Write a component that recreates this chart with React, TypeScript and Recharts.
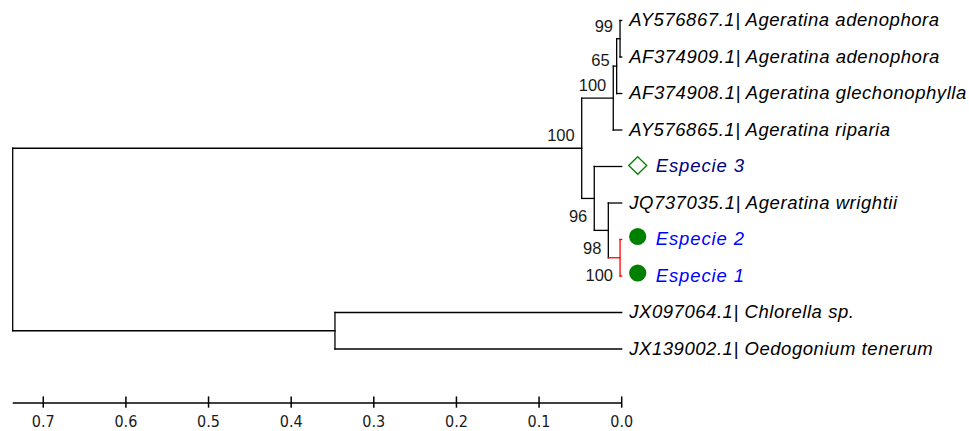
import React from 'react';
import { ComposedChart, Line, Scatter, XAxis, YAxis } from 'recharts';

// ---- data ----
const leafNames = [
  'AY576867.1| Ageratina adenophora',
  'AF374909.1| Ageratina adenophora',
  'AF374908.1| Ageratina glechonophylla',
  'AY576865.1| Ageratina riparia',
  'Especie 3',
  'JQ737035.1| Ageratina wrightii',
  'Especie 2',
  'Especie 1',
  'JX097064.1| Chlorella sp.',
  'JX139002.1| Oedogonium tenerum',
];
const leafHeights = [0, 0, 0, 0, 0, 0, 0, 0, 0, 0];

const nodeIds = ['n99', 'n65', 'n100a', 'n100r', 'n98', 'n96', 'n100b', 'nOut', 'root'];
const nodeHeights = [0.002, 0.0061, 0.0102, 0.002, 0.0162, 0.0332, 0.0484, 0.347, 0.737];
const nodeChildren = [
  ['L0', 'L1'],
  ['n99', 'L2'],
  ['n65', 'L3'],
  ['L6', 'L7'],
  ['L5', 'n100r'],
  ['L4', 'n98'],
  ['n100a', 'n96'],
  ['L8', 'L9'],
  ['n100b', 'nOut'],
];
const nodeSupport = ['99', '65', '100', '100', '98', '96', '100', '', ''];

const axisTicks = [0.7, 0.6, 0.5, 0.4, 0.3, 0.2, 0.1, 0.0];

// ---- styles (not data) ----
const redClade = ['n100r'];
const leafStyle: Record<string, { marker?: 'circle' | 'diamond'; color: string }> = {
  'Especie 3': { marker: 'diamond', color: '#000080' },
  'Especie 2': { marker: 'circle', color: '#0000FF' },
  'Especie 1': { marker: 'circle', color: '#0000FF' },
};
const supportDy: Record<string, number> = {
  n99: -6.6,
  n65: 0,
  n100a: -7,
  n100r: 23.5,
  n98: 23.5,
  n96: 23.5,
  n100b: -7.7,
};

// ---- build tree geometry in data units ----
type P = { v: number; y: number };
const posCache: Record<string, P> = {};
function pos(id: string): P {
  if (posCache[id]) return posCache[id];
  let p: P;
  if (id.startsWith('L')) {
    const i = parseInt(id.slice(1), 10);
    p = { v: leafHeights[i], y: i };
  } else {
    const k = nodeIds.indexOf(id);
    const ys = nodeChildren[k].map((c) => pos(c).y);
    p = { v: nodeHeights[k], y: ys.reduce((a, b) => a + b, 0) / ys.length };
  }
  posCache[id] = p;
  return p;
}

type Seg = { x1: number; y1: number; x2: number; y2: number; color: string };
const segments: Seg[] = [];
nodeIds.forEach((id, k) => {
  const np = pos(id);
  const kids = nodeChildren[k];
  const ys = kids.map((c) => pos(c).y);
  const red = redClade.includes(id);
  segments.push({ x1: np.v, y1: Math.min(...ys), x2: np.v, y2: Math.max(...ys), color: red ? '#FF0000' : '#000' });
  kids.forEach((c) => {
    const cp = pos(c);
    const cRed = red || redClade.includes(c);
    segments.push({ x1: np.v, y1: cp.y, x2: cp.v, y2: cp.y, color: cRed ? '#FF0000' : '#000' });
  });
});

const tipData = leafNames.map((name, i) => ({ x: leafHeights[i], y: i, name }));
const supportData = nodeIds
  .map((id, k) => ({ x: pos(id).v, y: pos(id).y, id, label: nodeSupport[k] }))
  .filter((d) => d.label !== '');

const FONT = '"Liberation Sans", Arial, sans-serif';

const TipShape = (props: any) => {
  const { cx, cy, payload } = props;
  const st = leafStyle[payload.name];
  const marker = st?.marker;
  const tx = cx + (marker ? 34 : 7.5);
  const mx = cx + 16;
  return (
    <g>
      {marker === 'circle' && <circle cx={mx} cy={cy - 3} r={8.6} fill="#008000" />}
      {marker === 'diamond' && (
        <polygon
          points={`${mx},${cy - 9.8} ${mx + 9},${cy - 1} ${mx},${cy + 7.8} ${mx - 9},${cy - 1}`}
          fill="none"
          stroke="#008000"
          strokeWidth={1.3}
        />
      )}
      <text
        x={tx}
        y={cy + 5.5}
        fontFamily={FONT}
        fontStyle="italic"
        fontSize={18.5}
        letterSpacing={marker ? 0.9 : 0.55}
        fill={st?.color ?? '#000'}
      >
        {payload.name}
      </text>
    </g>
  );
};

const SupportShape = (props: any) => {
  const { cx, cy, payload } = props;
  return (
    <text
      x={cx - 7}
      y={cy + (supportDy[payload.id] ?? -7)}
      textAnchor="end"
      fontFamily={FONT}
      fontSize={16.5}
      fill="#1a1a1a"
    >
      {payload.label}
    </text>
  );
};

const AxisTick = (props: any) => {
  const { x, y, payload } = props;
  return (
    <g>
      <line x1={x} x2={x} y1={y - 6.6} y2={y + 4.7} stroke="#000" strokeWidth={1.5} />
      <text
        x={x}
        y={y + 24}
        textAnchor="middle"
        fontFamily='"Liberation Sans Narrow", "Arial Narrow", "DejaVu Sans Condensed", Arial, sans-serif'
        fontSize={16}
        fill="#1a1a1a"
      >
        {Number(payload.value).toFixed(1)}
      </text>
    </g>
  );
};

export default function App() {
  return (
    <div style={{ position: 'absolute', left: 0, top: 0, background: '#fff' }}>
      <ComposedChart
        width={969}
        height={431}
        margin={{ top: 20.5, right: 347.3, bottom: 0, left: 12.7 }}
      >
        <XAxis
          type="number"
          dataKey="x"
          domain={[0, 0.737]}
          reversed
          ticks={axisTicks}
          interval={0}
          tickLine={false}
          tickSize={0}
          tickMargin={0}
          tick={<AxisTick />}
          axisLine={{ stroke: '#000', strokeWidth: 1.5 }}
          height={28}
        />
        <YAxis type="number" dataKey="y" domain={[0, 10.479]} reversed hide />
        {segments.map((s, i) => (
          <Line
            key={i}
            data={[
              { x: s.x1, y: s.y1 },
              { x: s.x2, y: s.y2 },
            ]}
            dataKey="y"
            type="linear"
            stroke={s.color}
            strokeWidth={1.3}
            strokeLinecap="square"
            dot={false}
            activeDot={false}
            isAnimationActive={false}
          />
        ))}
        <Scatter data={tipData} dataKey="y" shape={<TipShape />} isAnimationActive={false} />
        <Scatter data={supportData} dataKey="y" shape={<SupportShape />} isAnimationActive={false} />
      </ComposedChart>
    </div>
  );
}
